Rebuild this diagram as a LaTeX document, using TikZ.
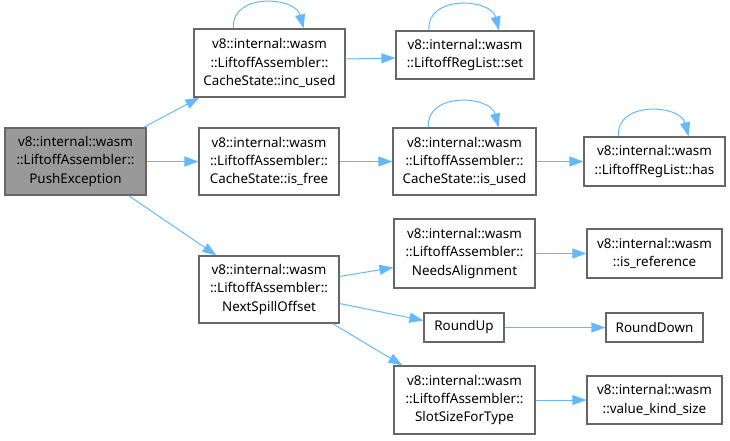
\documentclass[tikz,border=0pt]{standalone}
\usepackage{fontspec}
\setmainfont{Noto Sans}
\usetikzlibrary{arrows.meta}
\definecolor{edgeblue}{HTML}{63B8FF}
\definecolor{boxgray}{HTML}{666666}
\definecolor{rootfill}{HTML}{999999}
\tikzset{
  fn/.style={draw=boxgray, line width=1.2pt, fill=white, inner sep=0pt, align=center,
    font=\fontsize{13.4pt}{18.3pt}\selectfont, text=black},
  rootfn/.style={fn, fill=rootfill},
  edge/.style={draw=edgeblue, line width=1pt, -{Triangle[length=14pt,width=10pt]}},
}
\newcommand{\selfloop}[1]{%
  \draw[edge] ([xshift=-36pt]#1.north) .. controls +(-3,-36) and +(-8,-32) .. ([xshift=34pt]#1.north);}
\begin{document}
\begin{tikzpicture}[x=1pt,y=-1pt]
\useasboundingbox (0,0) rectangle (730,440);
\node[rootfn, minimum width=141pt, minimum height=67pt] (push) at (75.5,161.5)
  {v8::internal::wasm\\::LiftoffAssembler::\\PushException};
\node[fn, minimum width=151pt, minimum height=68pt] (incused) at (269.5,63)
  {v8::internal::wasm\\::LiftoffAssembler::\\CacheState::inc\_used};
\node[fn, minimum width=140pt, minimum height=67pt] (isfree) at (269,161.5)
  {v8::internal::wasm\\::LiftoffAssembler::\\CacheState::is\_free};
\node[fn, minimum width=140pt, minimum height=67pt] (nso) at (269,289.5)
  {v8::internal::wasm\\::LiftoffAssembler::\\NextSpillOffset};
\node[fn, minimum width=138pt, minimum height=48pt] (setn) at (465,55)
  {v8::internal::wasm\\::LiftoffRegList::set};
\node[fn, minimum width=143pt, minimum height=67pt] (isused) at (464.5,161.5)
  {v8::internal::wasm\\::LiftoffAssembler::\\CacheState::is\_used};
\node[fn, minimum width=141pt, minimum height=49pt] (has) at (654.5,161.5)
  {v8::internal::wasm\\::LiftoffRegList::has};
\node[fn, minimum width=141pt, minimum height=69pt] (needs) at (464.5,253.5)
  {v8::internal::wasm\\::LiftoffAssembler::\\NeedsAlignment};
\node[fn, minimum width=135pt, minimum height=49pt] (isref) at (654.5,253.5)
  {v8::internal::wasm\\::is\_reference};
\node[fn, minimum width=80pt, minimum height=29pt] (roundup) at (464,327.5) {RoundUp};
\node[fn, minimum width=97pt, minimum height=29pt] (rounddown) at (654.5,327.5) {RoundDown};
\node[fn, minimum width=141pt, minimum height=68pt] (slot) at (464.5,400)
  {v8::internal::wasm\\::LiftoffAssembler::\\SlotSizeForType};
\node[fn, minimum width=135pt, minimum height=48pt] (vks) at (654.5,400)
  {v8::internal::wasm\\::value\_kind\_size};

\draw[edge] ([xshift=-3pt]push.north east) -- ([xshift=6pt]incused.south west);
\draw[edge] (push.east) -- (isfree.west);
\draw[edge] ([xshift=-18pt]push.south east) -- ([xshift=18pt]nso.north west);
\draw[edge] ([yshift=4pt]incused.east) -- ([yshift=-3pt]setn.west);
\draw[edge] (isfree.east) -- (isused.west);
\draw[edge] (isused.east) -- (has.west);
\draw[edge] ([yshift=13pt]nso.east) -- ([yshift=-14pt]needs.west);
\draw[edge] ([yshift=-14pt]nso.east) -- ([yshift=7pt]roundup.west);
\draw[edge] ([xshift=-7pt]nso.south east) -- ([xshift=9pt]slot.north west);
\draw[edge] (needs.east) -- (isref.west);
\draw[edge] (roundup.east) -- (rounddown.west);
\draw[edge] (slot.east) -- (vks.west);
\selfloop{incused}
\selfloop{setn}
\selfloop{isused}
\selfloop{has}
\end{tikzpicture}
\end{document}
